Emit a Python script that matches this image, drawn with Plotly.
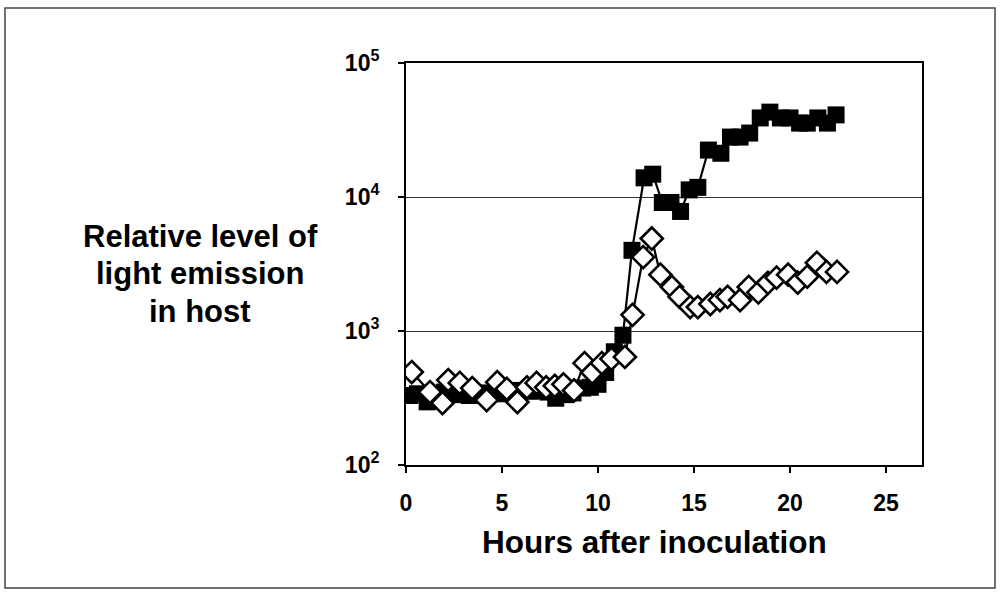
import plotly.graph_objects as go

# Filled squares series
sq_hours = [0.2, 0.6, 1.1, 1.5, 2.0, 2.4, 2.9, 3.3, 3.8, 4.2, 4.7, 5.1, 5.6, 6.0, 6.5, 6.9,
            7.4, 7.8, 8.3, 8.7, 9.2, 9.6, 10.0, 10.4, 10.85, 11.3, 11.77, 12.4, 12.85, 13.35,
            13.8, 14.3, 14.75, 15.2, 15.75, 16.4, 16.9, 17.4, 17.9, 18.45, 18.95, 19.5, 20.0,
            20.5, 20.9, 21.45, 21.95, 22.4]
sq_values = [330, 340, 296, 300, 350, 345, 335, 330, 340, 345, 375, 340, 350, 360, 355, 360,
             350, 315, 335, 345, 375, 380, 400, 490, 700, 930, 4000, 13900, 14800, 9100,
             9100, 7800, 11300, 11800, 22400, 21200, 28000, 28000, 30000, 38900, 43000, 38900, 38900,
             35600, 35600, 38900, 35600, 41000]

# Open diamonds series
di_hours = [0.3, 1.25, 1.9, 2.2, 2.8, 3.45, 4.2, 4.75, 5.25, 5.8, 6.3, 6.8, 7.3, 7.75, 8.2,
            8.75, 9.3, 9.7, 10.2, 10.7, 11.4, 11.8, 12.35, 12.8, 13.25, 13.85, 14.25, 14.8,
            15.2, 15.85, 16.35, 16.75, 17.4, 17.85, 18.35, 18.85, 19.3, 19.9, 20.4, 20.9,
            21.4, 21.9, 22.45]
di_values = [494, 350, 290, 430, 410, 375, 305, 415, 370, 295, 380, 410, 380, 390, 400,
             360, 575, 490, 575, 620, 640, 1320, 3560, 4900, 2630, 2130, 1800, 1510,
             1510, 1590, 1700, 1800, 1700, 2130, 1940, 2290, 2500, 2630, 2300, 2550,
             3230, 2760, 2760]

x_ticks = [0, 5, 10, 15, 20, 25]
y_ticks = [100, 1000, 10000, 100000]
y_ticklabels = ["<b>10<sup>2</sup></b>", "<b>10<sup>3</sup></b>",
                "<b>10<sup>4</sup></b>", "<b>10<sup>5</sup></b>"]
y_title_lines = ["Relative level of", "light emission", "in host"]
x_title = "Hours after inoculation"

FONT = "Liberation Sans, Arial, sans-serif"

W, H = 1001, 592
L, R, T, B = 406, 79, 63, 127
PW, PH = W - L - R, H - T - B


def px_x(px):
    return (px - L) / PW


def px_y(py):
    return (H - B - py) / PH


fig = go.Figure()
fig.add_trace(go.Scatter(
    x=sq_hours, y=sq_values, mode="lines+markers",
    line=dict(color="black", width=2.2),
    marker=dict(symbol="square", size=17, color="black", line=dict(color="black", width=0)),
    showlegend=False))
fig.add_trace(go.Scatter(
    x=di_hours, y=di_values, mode="lines+markers",
    line=dict(color="black", width=2.2),
    marker=dict(symbol="diamond", size=17, color="white", line=dict(color="black", width=2.6)),
    showlegend=False))

fig.update_layout(
    width=W, height=H,
    margin=dict(l=L, r=R, t=T, b=B),
    paper_bgcolor="white", plot_bgcolor="white",
    font=dict(family=FONT, color="black"),
    xaxis=dict(range=[0, 26.875], tickvals=x_ticks,
               ticktext=[f"<b>{v}</b>" for v in x_ticks],
               tickfont=dict(size=23, family=FONT),
               showline=True, linecolor="black", linewidth=2, mirror=True,
               ticks="outside", ticklen=6, tickwidth=2, tickcolor="black",
               ticklabelstandoff=10,
               showgrid=False, zeroline=False),
    yaxis=dict(type="log", range=[2, 5], tickvals=y_ticks, ticktext=y_ticklabels,
               tickfont=dict(size=23, family=FONT),
               showline=True, linecolor="black", linewidth=2, mirror=True,
               ticks="outside", ticklen=6, tickwidth=2, tickcolor="black",
               ticklabelstandoff=14,
               showgrid=True, gridcolor="#333333", gridwidth=1, zeroline=False),
)

for i, line in enumerate(y_title_lines):
    fig.add_annotation(text=f"<b>{line}</b>",
                       xref="paper", yref="paper", x=px_x(200), y=px_y(236 + 37.5 * i),
                       showarrow=False, align="center", font=dict(size=31, family=FONT),
                       xanchor="center", yanchor="middle")
fig.add_annotation(text=f"<b>{x_title}</b>",
                   xref="paper", yref="paper", x=px_x(654), y=px_y(542),
                   showarrow=False, font=dict(size=31.5, family=FONT),
                   xanchor="center", yanchor="middle")

# outer frame
fig.add_shape(type="rect", xref="paper", yref="paper",
              x0=px_x(5), x1=px_x(995), y0=px_y(588), y1=px_y(8),
              line=dict(color="#444444", width=1.5), layer="below")

fig.write_html("out.html", config={"displayModeBar": False},
               post_script="document.body.style.margin='0';document.body.style.padding='0';")
